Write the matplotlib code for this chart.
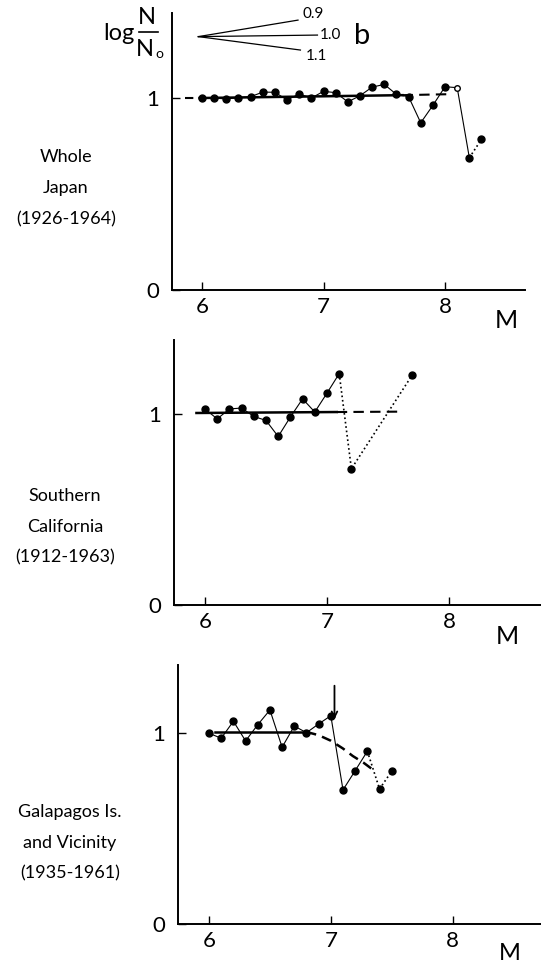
import matplotlib

matplotlib.use("Agg")
import matplotlib.pyplot as plt
from matplotlib.lines import Line2D

plt.rcParams["font.family"] = ["Lato", "DejaVu Sans"]

W, H = 541, 966

# --- Whole Japan (1926-1964) ---
jp_m = [6.0, 6.1, 6.2, 6.3, 6.4, 6.5, 6.6, 6.7, 6.8, 6.9, 7.0, 7.1,
        7.2, 7.3, 7.4, 7.5, 7.6, 7.7, 7.8, 7.9, 8.0, 8.1, 8.2, 8.3]
jp_v = [1.0, 1.0, 0.995, 1.002, 1.007, 1.031, 1.03, 0.99, 1.021, 1.0, 1.035, 1.028,
        0.98, 1.012, 1.057, 1.071, 1.019, 1.007, 0.871, 0.962, 1.059, 1.054, 0.689, 0.785]
jp_open = 21            # point drawn hollow (M 8.1)
jp_solid_end = 22       # solid line up to M 8.2, dotted after
jp_ref_m = [5.86, 5.98, 7.65, 8.03]
jp_ref_v = [1.0, 1.0, 1.015, 1.02]

# b fan (slopes for b = 0.9, 1.0, 1.1)
fan_apex = (5.97, 1.32)
fan_m = [6.79, 6.95, 6.81]
fan_v = [1.406, 1.328, 1.25]
fan_labels = ["0.9", "1.0", "1.1"]

# --- Southern California (1912-1963) ---
ca_m = [6.0, 6.1, 6.2, 6.3, 6.4, 6.5, 6.6, 6.7, 6.8, 6.9, 7.0, 7.1, 7.2, 7.7]
ca_v = [1.026, 0.974, 1.026, 1.031, 0.987, 0.966, 0.882, 0.984, 1.079, 1.01,
        1.109, 1.211, 0.713, 1.205]
ca_solid_end = 11
ca_ref_m = [5.93, 7.08, 7.6]
ca_ref_v = [1.005, 1.01, 1.012]

# --- Galapagos Is. and Vicinity (1935-1961) ---
ga_m = [6.0, 6.1, 6.2, 6.3, 6.4, 6.5, 6.6, 6.7, 6.8, 6.9, 7.0, 7.1,
        7.2, 7.3, 7.4, 7.5]
ga_v = [1.0, 0.974, 1.063, 0.96, 1.045, 1.122, 0.927, 1.038, 1.003, 1.049, 1.092,
        0.703, 0.804, 0.906, 0.708, 0.801]
ga_solid_end = 13
ga_ref_solid_m = [6.05, 6.8]
ga_ref_solid_v = [1.007, 1.007]
ga_ref_dash_m = [6.8, 6.9, 7.0, 7.1, 7.18, 7.27, 7.35]
ga_ref_dash_v = [1.007, 0.99, 0.961, 0.92, 0.881, 0.845, 0.807]
ga_arrow_m = 7.03
ga_arrow_v = (1.264, 1.06)

xticks = [6, 7, 8]
yticks = [0, 1]


def fx(px):
    return px / W


def fy(py):
    return 1 - py / H


def make_axes(fig, left, right, top, bottom, xlim, ylim):
    ax = fig.add_axes([fx(left), fy(bottom), (right - left) / W, (bottom - top) / H])
    ax.set_xlim(*xlim)
    ax.set_ylim(*ylim)
    for s in ("top", "right"):
        ax.spines[s].set_visible(False)
    for s in ("left", "bottom"):
        ax.spines[s].set_linewidth(1.4)
    ax.set_xticks(xticks)
    ax.set_yticks(yticks)
    ax.tick_params(direction="in", length=6, width=1.0, labelsize=16, pad=5)
    ax.tick_params(axis="y", pad=9)
    ax.patch.set_alpha(0)
    return ax


def draw_series(ax, m, v, solid_end):
    ax.plot(m[:solid_end + 1], v[:solid_end + 1], "-", color="black", lw=0.8)
    ax.plot(m[solid_end:], v[solid_end:], ":", color="black", lw=1.2)


fig = plt.figure(figsize=(W / 100, H / 100), dpi=100)

# panel 1
ax1 = make_axes(fig, 172, 525, 13, 290, (5.753, 8.658), (0, 1.443))
ax1.plot(jp_ref_m[:2], jp_ref_v[:2], "--", color="black", lw=1.5, dashes=(4, 3))
ax1.plot(jp_ref_m[1:3], jp_ref_v[1:3], "-", color="black", lw=1.8)
ax1.plot(jp_ref_m[2:], jp_ref_v[2:], "--", color="black", lw=1.5, dashes=(5, 3))
draw_series(ax1, jp_m, jp_v, jp_solid_end)
filled = [i for i in range(len(jp_m)) if i != jp_open]
ax1.plot([jp_m[i] for i in filled], [jp_v[i] for i in filled], "o", color="black", ms=5)
ax1.plot(jp_m[jp_open], jp_v[jp_open], "o", mfc="white", mec="black", ms=4, mew=1)
for m, v, lab in zip(fan_m, fan_v, fan_labels):
    ax1.plot([fan_apex[0], m], [fan_apex[1], v], "-", color="black", lw=0.9, clip_on=False)
ax1.text(fan_m[0] + 0.04, fan_v[0] + 0.03, fan_labels[0], fontsize=11, ha="left", va="center")
ax1.text(fan_m[1] + 0.02, fan_v[1], fan_labels[1], fontsize=11, ha="left", va="center")
ax1.text(fan_m[2] + 0.04, fan_v[2] - 0.03, fan_labels[2], fontsize=11, ha="left", va="center")
fig.text(fx(362), fy(36), "b", fontsize=21, ha="center", va="center")

# log N/N0 label, built by hand
fig.text(fx(119), fy(34), "log", fontsize=17, ha="center", va="center")
fig.text(fx(147), fy(18), "N", fontsize=17, ha="center", va="center")
fig.text(fx(145), fy(49), "N", fontsize=17, ha="center", va="center")
fig.add_artist(Line2D([fx(139), fx(158)], [fy(32), fy(32)], color="black", lw=1.2))
fig.text(fx(159), fy(54), "o", fontsize=10, ha="center", va="center")

fig.text(fx(506), fy(320), "M", fontsize=18, ha="center", va="center")
for py, s in zip([157, 188, 219], ["Whole", "Japan", "(1926-1964)"]):
    fig.text(fx(66), fy(py), s, fontsize=13, ha="center", va="center")

# panel 2
ax2 = make_axes(fig, 174, 541, 340, 605, (5.746, 8.754), (0, 1.387))
ax2.plot(ca_ref_m[:2], ca_ref_v[:2], "-", color="black", lw=1.8)
ax2.plot(ca_ref_m[1:], ca_ref_v[1:], "--", color="black", lw=1.5, dashes=(5, 3))
draw_series(ax2, ca_m, ca_v, ca_solid_end)
ax2.plot(ca_m, ca_v, "o", color="black", ms=5)
fig.text(fx(507), fy(637), "M", fontsize=18, ha="center", va="center")
for py, s in zip([496, 527, 557], ["Southern", "California", "(1912-1963)"]):
    fig.text(fx(65), fy(py), s, fontsize=13, ha="center", va="center")

# panel 3
ax3 = make_axes(fig, 178, 541, 665, 924, (5.745, 8.726), (0, 1.358))
ax3.plot(ga_ref_solid_m, ga_ref_solid_v, "-", color="black", lw=1.8)
ax3.plot(ga_ref_dash_m, ga_ref_dash_v, "--", color="black", lw=1.8, dashes=(4, 2.5))
draw_series(ax3, ga_m, ga_v, ga_solid_end)
ax3.plot(ga_m, ga_v, "o", color="black", ms=5)
ax3.annotate("", xy=(ga_arrow_m, ga_arrow_v[1]), xytext=(ga_arrow_m, ga_arrow_v[0]),
             arrowprops=dict(arrowstyle="->", color="black", lw=1.3))
fig.text(fx(510), fy(953), "M", fontsize=17, ha="center", va="center")
for py, s in zip([812, 843, 873], ["Galapagos Is.", "and Vicinity", "(1935-1961)"]):
    fig.text(fx(70), fy(py), s, fontsize=13, ha="center", va="center")

fig.savefig("out.png", dpi=100)
